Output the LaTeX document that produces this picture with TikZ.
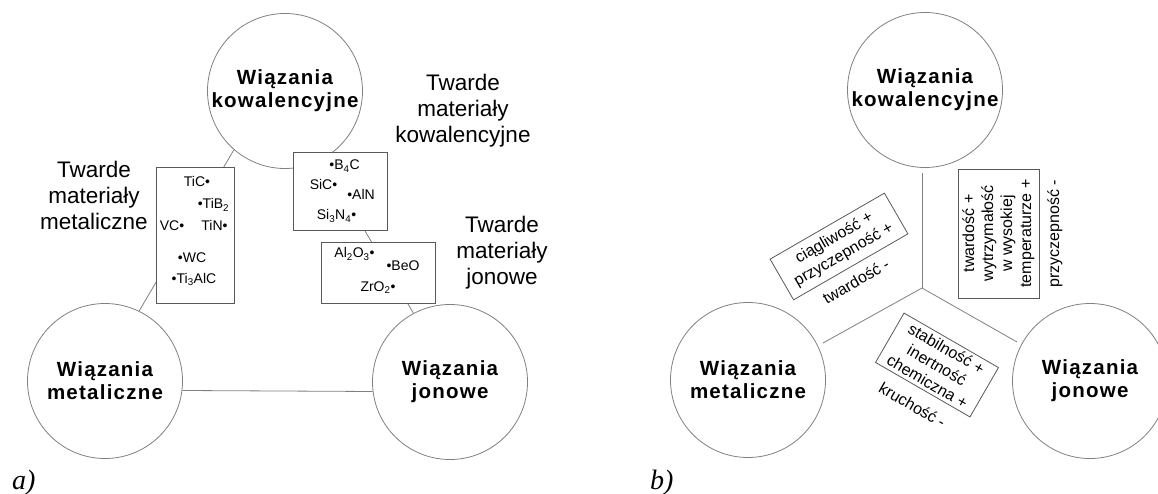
\documentclass[tikz,border=0pt]{standalone}
\usepackage{fontspec}
\setmainfont{Liberation Sans}
\newfontfamily\bondfont[LetterSpace=6]{Liberation Sans}
\newfontfamily\tagfont{Liberation Serif}

\begin{document}
\begin{tikzpicture}[x=1pt,y=-1pt,
    bond/.style={circle,draw=black!50,line width=0.8pt,minimum size=155pt,inner sep=0pt,align=center,
      font=\bondfont\fontsize{20.5}{23}\selectfont\bfseries},
    link/.style={draw=black!50,line width=0.8pt},
    group/.style={draw=black!65,line width=0.8pt,fill=white,inner sep=0pt},
    item/.style={anchor=base,inner sep=0pt,font=\fontsize{14}{16}\selectfont},
    kind/.style={align=center,inner sep=0pt,font=\fontsize{22.5}{26}\selectfont},
    prop/.style={align=center,inner sep=0pt,font=\fontsize{16}{19}\selectfont},
    tag/.style={anchor=base west,inner sep=0pt,font=\tagfont\itshape\fontsize{28}{30}\selectfont}]
      \useasboundingbox (0,0) rectangle (1158,494);
      % a)
      \node (kowA) [bond] at (285,91) {Wiązania\\kowalencyjne};
      \node (metA) [bond] at (105,381) {Wiązania\\metaliczne};
      \node (jonA) [bond] at (450,382) {Wiązania\\jonowe};
      \draw[link] (kowA.229)--(metA.64);
      \draw[link] (kowA.299)--(jonA.118);
      \draw[link] (metA.-7)--(jonA.187);
      \node (metBox) [group,minimum width=78pt,minimum height=136pt] at (195,235) {};
      \node (kowBox) [group,minimum width=94pt,minimum height=78pt] at (340,191) {};
      \node (jonBox) [group,minimum width=114pt,minimum height=61pt] at (378,272.5) {};
      \node (tic) [item] at (197,187) {TiC•};
      \node (tib) [item] at (213.5,209) {•TiB\textsubscript{2}};
      \node (vc) [item] at (172,231) {VC•};
      \node (tin) [item] at (214.5,231) {TiN•};
      \node (wc) [item] at (192,262.5) {•WC};
      \node (tialc) [item] at (194,283) {•Ti\textsubscript{3}AlC};
      \node (bc) [item] at (344.5,170) {•B\textsubscript{4}C};
      \node (sic) [item] at (323.5,190) {SiC•};
      \node (aln) [item] at (361,200) {•AlN};
      \node (sin) [item] at (336.5,220) {Si\textsubscript{3}N\textsubscript{4}•};
      \node (alo) [item] at (354.5,258) {Al\textsubscript{2}O\textsubscript{3}•};
      \node (beo) [item] at (403,270.5) {•BeO};
      \node (zro) [item] at (378,291.5) {ZrO\textsubscript{2}•};
      \node (metKind) [kind] at (94,195) {Twarde\\materiały\\metaliczne};
      \node (kowKind) [kind] at (463,111) {Twarde\\materiały\\kowalencyjne};
      \node (jonKind) [kind] at (502,253) {Twarde\\materiały\\jonowe};
      \node (tagA) [tag] at (12,489) {a)};
      % b)
      \node (kowB) [bond] at (925,90) {Wiązania\\kowalencyjne};
      \node (metB) [bond] at (748,380) {Wiązania\\metaliczne};
      \node (jonB) [bond] at (1090,381) {Wiązania\\jonowe};
      \coordinate (mid) at (922,288);
      \coordinate (midU) at (922,173);
      \coordinate (midL) at (823,343);
      \coordinate (midR) at (1017,342);
      \draw[link] (mid)--(midU);
      \draw[link] (mid)--(midL);
      \draw[link] (mid)--(midR);
      \node (ductile) [prop,group,rotate=30,minimum width=132pt,minimum height=47pt] at (839,246.5) {ciągliwość +\\przyczepność +};
      \node (ductileMinus) [prop,rotate=30] at (856,281) {twardość -};
      \node (hard) [prop,group,rotate=90,minimum width=129pt,minimum height=81pt] at (998.5,233.5) {twardość +\\wytrzymałość\\w wysokiej\\temperaturze +};
      \node (hardMinus) [prop,rotate=90] at (1055,234) {przyczepność -};
      \node (stable) [prop,group,rotate=-30,minimum width=109pt,minimum height=57pt] at (937,365) {stabilność +\\inertność\\chemiczna +};
      \node (stableMinus) [prop,rotate=-30] at (912.5,405) {kruchość -};
      \node (tagB) [tag] at (650,489) {b)};
    \end{tikzpicture}
\end{document}
